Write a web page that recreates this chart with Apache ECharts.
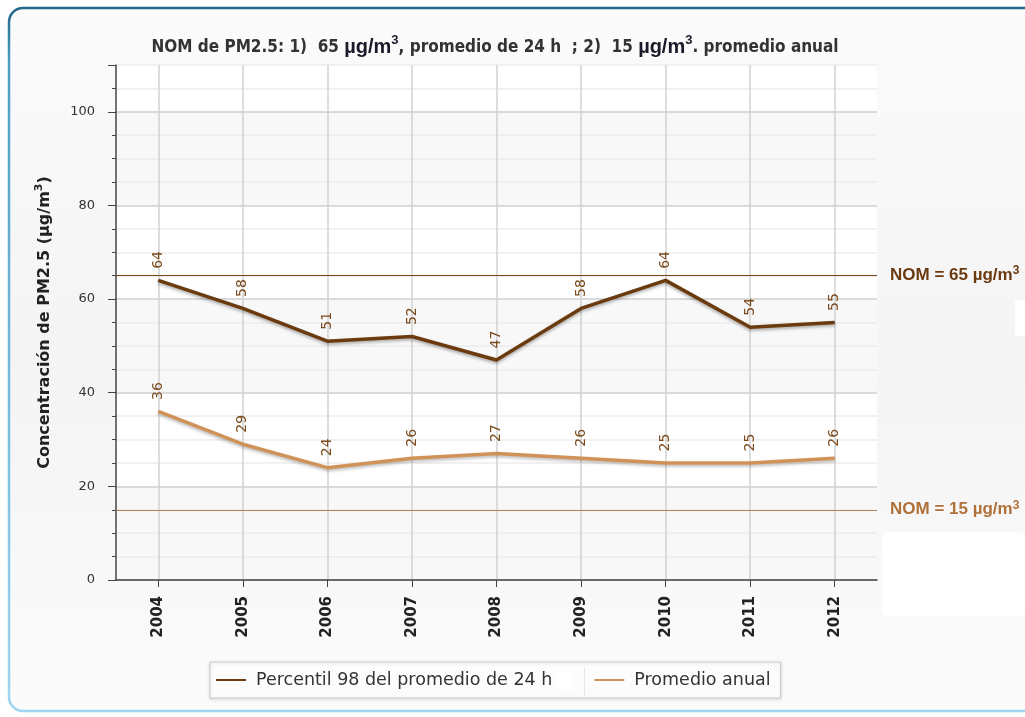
<!DOCTYPE html>
<html>
<head>
<meta charset="utf-8">
<script src="https://cdn.jsdelivr.net/npm/echarts@6/dist/echarts.min.js"></script>
<style>
html,body{margin:0;padding:0;background:#fff;}
#c{width:1025px;height:717px;}
</style>
</head>
<body>
<div id="c"></div>
<script>
const years = ['2004','2005','2006','2007','2008','2009','2010','2011','2012'];
const percentil98 = [64,58,51,52,47,58,64,54,55];
const promedioAnual = [36,29,24,26,27,26,25,25,26];
const nom24h = 65;
const nomAnual = 15;
const seriesNames = ['Percentil 98 del promedio de 24 h', 'Promedio anual'];

const chart = echarts.init(document.getElementById('c'));
const labelColor = '#7a4a1c';
const font = 'DejaVu Sans, Verdana, sans-serif';
const condFont = 'DejaVu Sans Condensed, DejaVu Sans, sans-serif';
const libFont = 'Liberation Sans, Arial, sans-serif';

chart.setOption({
  animation: false,
  backgroundColor: '#ffffff',
  graphic: [
    {
      type: 'rect', z: -10, silent: true,
      shape: {x: 9, y: 8, width: 1040, height: 703, r: 14},
      style: {
        fill: new echarts.graphic.LinearGradient(0, 0, 0, 1, [
          {offset: 0, color: '#fbfbfb'}, {offset: 0.5, color: '#f4f4f4'}, {offset: 1, color: '#fbfbfb'}
        ]),
        stroke: new echarts.graphic.LinearGradient(0, 0, 0, 1, [
          {offset: 0, color: '#1f6688'}, {offset: 0.08, color: '#4f9cc4'}, {offset: 1, color: '#9fd6f2'}
        ]),
        lineWidth: 2.5
      }
    },
    {type: 'rect', z: 10, silent: true, shape: {x: 1015, y: 300, width: 10, height: 36}, style: {fill: '#ffffff'}},
    {type: 'rect', z: 10, silent: true, shape: {x: 882, y: 532, width: 143, height: 84, r: 6}, style: {fill: '#ffffff'}},
    {type: 'rect', z: 100, silent: true, shape: {x: 556, y: 673, width: 17, height: 17}, style: {fill: '#ffffff'}},
    {type: 'line', z: 100, silent: true, shape: {x1: 584.5, y1: 668, x2: 584.5, y2: 696}, style: {stroke: '#e4e4e4', lineWidth: 1}}
  ],
  title: {
    left: 490, top: 29, textAlign: 'center',
    text: '{a|NOM de PM2.5: 1)  65 }{b|µg/m}{s|3}{a|, promedio de 24 h  ; 2)  15 }{b|µg/m}{s|3}{a|. promedio anual}',
    textStyle: {
      rich: {
        a: {fontFamily: condFont, fontWeight: 'bold', fontSize: 17, color: '#333'},
        b: {fontFamily: libFont, fontWeight: 'bold', fontSize: 20, color: '#1a1a2a'},
        s: {fontFamily: libFont, fontWeight: 'bold', fontSize: 13, color: '#1a1a2a', verticalAlign: 'top', padding: [0,0,14,0]}
      }
    }
  },
  legend: {
    left: 210, top: 662,
    data: seriesNames,
    icon: 'rect', itemWidth: 30, itemHeight: 2, itemGap: 42,
    backgroundColor: '#fcfcfc', borderColor: '#cccccc', borderWidth: 1,
    padding: [9, 10, 9, 6],
    shadowColor: 'rgba(0,0,0,0.12)', shadowBlur: 3, shadowOffsetY: 1,
    textStyle: {fontFamily: font, fontSize: 17.5, color: '#333', padding: [0, 0, 0, 5]}
  },
  grid: {left: 116, right: 148, top: 65, bottom: 137, show: false},
  xAxis: {
    type: 'category',
    data: years,
    boundaryGap: true,
    axisLine: {show: true, lineStyle: {color: '#444', width: 1.5}},
    axisTick: {show: true, alignWithLabel: true, length: 7, lineStyle: {color: '#444'}},
    axisLabel: {rotate: 90, margin: 16, fontFamily: font, fontWeight: 'bold', fontSize: 15, color: '#222'},
    splitLine: {show: true, alignWithLabel: true, lineStyle: {color: '#d2d2d2', width: 1.5}}
  },
  yAxis: [
    {
      type: 'value', min: 0, max: 110, interval: 5,
      axisLine: {show: true, lineStyle: {color: '#444', width: 1.5}},
      axisTick: {show: true, length: 4, lineStyle: {color: '#444'}},
      axisLabel: {
        margin: 21, fontFamily: font, fontSize: 13, color: '#333',
        formatter: v => (v % 20 === 0 && v <= 100) ? String(v) : ''
      },
      splitLine: {show: true, lineStyle: {color: ['#cfcfcf', '#ececec', '#ececec', '#ececec'], width: 1.5}},
      splitArea: {show: true, areaStyle: {color: ['#f8f8f8','#f8f8f8','#f8f8f8','#f8f8f8','#ffffff','#ffffff','#ffffff','#ffffff']}},
      name: 'Concentración de PM2.5 (µg/m{s|3})',
      nameLocation: 'middle', nameGap: 60,
      nameTextStyle: {
        fontFamily: font, fontWeight: 'bold', fontSize: 16, color: '#222',
        rich: {s: {fontFamily: font, fontWeight: 'bold', fontSize: 11, color: '#222', verticalAlign: 'top', padding: [0,0,11,0]}}
      }
    },
    {
      type: 'value', min: 0, max: 110, interval: 20, position: 'left',
      axisLine: {show: false},
      axisTick: {show: true, length: 8, lineStyle: {color: '#444'}},
      axisLabel: {show: false},
      splitLine: {show: false}
    }
  ],
  series: [
    {
      name: seriesNames[0], type: 'line', data: percentil98,
      symbol: 'circle', symbolSize: 1, showSymbol: true,
      lineStyle: {color: '#6b3a0e', width: 3.5, shadowColor: 'rgba(0,0,0,0.3)', shadowBlur: 3, shadowOffsetY: 2},
      itemStyle: {color: '#6b3a0e'},
      label: {show: true, position: 'top', rotate: 90, align: 'left', verticalAlign: 'middle', distance: 11,
        fontFamily: font, fontSize: 14, color: labelColor},
      markLine: {
        silent: true, symbol: 'none',
        lineStyle: {color: '#7a4413', width: 1.2, type: 'solid'},
        label: {position: 'end', distance: 13, fontFamily: libFont, fontWeight: 'bold', fontSize: 17, color: '#6b3a10',
          formatter: 'NOM = ' + nom24h + ' µg/m{s|3}',
          rich: {s: {fontFamily: libFont, fontWeight: 'bold', fontSize: 12, color: '#6b3a10', verticalAlign: 'top', padding: [0,0,9,0]}}},
        data: [{yAxis: nom24h}]
      }
    },
    {
      name: seriesNames[1], type: 'line', data: promedioAnual,
      symbol: 'circle', symbolSize: 1, showSymbol: true,
      lineStyle: {color: '#cf9258', width: 3.5, shadowColor: 'rgba(0,0,0,0.25)', shadowBlur: 3, shadowOffsetY: 2},
      itemStyle: {color: '#cf9258'},
      label: {show: true, position: 'top', rotate: 90, align: 'left', verticalAlign: 'middle', distance: 11,
        fontFamily: font, fontSize: 14, color: labelColor},
      markLine: {
        silent: true, symbol: 'none',
        lineStyle: {color: '#b4855c', width: 1.2, type: 'solid'},
        label: {position: 'end', distance: 13, fontFamily: libFont, fontWeight: 'bold', fontSize: 17, color: '#b0703a',
          formatter: 'NOM = ' + nomAnual + ' µg/m{s|3}',
          rich: {s: {fontFamily: libFont, fontWeight: 'bold', fontSize: 12, color: '#b0703a', verticalAlign: 'top', padding: [0,0,9,0]}}},
        data: [{yAxis: nomAnual}]
      }
    }
  ]
});
</script>
</body>
</html>
